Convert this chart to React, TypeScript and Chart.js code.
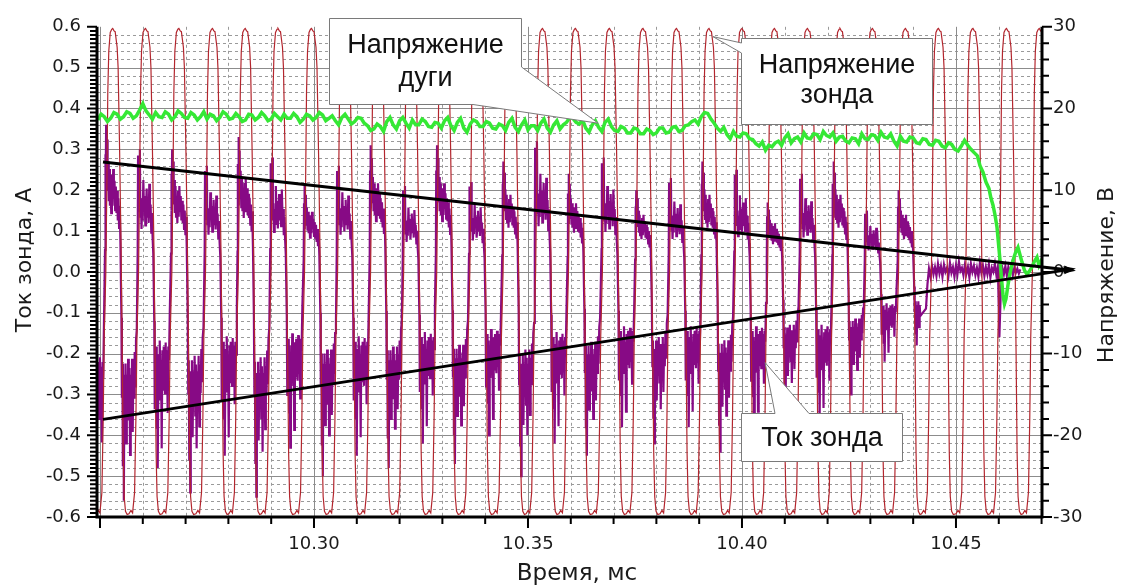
import React, { useEffect, useRef } from "react";
import { Chart, registerables } from "chart.js";

Chart.register(...registerables);

// ---------- axis ticks ----------
const timeTicks = [10.3, 10.35, 10.4, 10.45];
const currentTicks = [-0.6, -0.5, -0.4, -0.3, -0.2, -0.1, 0, 0.1, 0.2, 0.3, 0.4, 0.5, 0.6];
const voltageTicks = [-30, -20, -10, 0, 10, 20, 30];
const timeRange = [10.2493, 10.4701];

// ---------- probe voltage (right axis, V) ----------
// times of the tops of the probe voltage pulses, ms
const probePeakTimes = [
  10.25297, 10.26063, 10.26843, 10.27628, 10.28393, 10.29159, 10.29942, 10.30713,
  10.31484, 10.32257, 10.3303, 10.33804, 10.34579, 10.35339, 10.3611, 10.36904,
  10.37687, 10.3847, 10.39229, 10.4, 10.40759, 10.4153, 10.4229, 10.43049,
  10.4382, 10.44591, 10.45397, 10.4618, 10.46946,
];
// one pulse: phase within the period and voltage
const probePulsePhase = [-0.5, -0.44, -0.39, -0.33, -0.29, -0.26, -0.21, -0.18, -0.15, -0.12, -0.075, -0.03, 0, 0.04, 0.075, 0.135, 0.165, 0.21, 0.255, 0.29, 0.32, 0.35, 0.39, 0.44];
const probePulseVolts = [-29.6, -29.2, -29.5, -27, -18, -8, 0, 10, 22, 27, 29.3, 29.7, 29.8, 29.5, 29.4, 27.5, 25, 15, 3, -10, -22, -27.5, -29.3, -29.7];

// ---------- probe current (left axis, A) ----------
const currentHigh = [0.36, 0.3, 0.3, 0.26, 0.33, 0.28, 0.21, 0.26, 0.31, 0.21, 0.31, 0.22, 0.27, 0.32, 0.24, 0.28, 0.2, 0.23, 0.27, 0.25, 0.17, 0.24, 0.27, 0.15, 0.2];
const currentLow = [0.58, 0.56, 0.48, 0.54, 0.45, 0.55, 0.43, 0.5, 0.45, 0.48, 0.42, 0.47, 0.4, 0.5, 0.42, 0.45, 0.38, 0.42, 0.38, 0.44, 0.38, 0.34, 0.37, 0.3, 0.22, 0.18];
const posLobePhase = [-0.235, -0.225, -0.215, -0.2, -0.185, -0.17, -0.155, -0.14, -0.12, -0.1, -0.085, -0.065, -0.045, -0.025, -0.005, 0.015, 0.035, 0.055, 0.075, 0.095, 0.115, 0.135, 0.155, 0.175, 0.195, 0.215, 0.235];
const posLobeA = [0.15, 0.8, 0.5, 1.0, 0.62, 0.9, 0.55, 0.75, 0.48, 0.7, 0.45, 0.6, 0.4, 0.66, 0.45, 0.7, 0.5, 0.62, 0.42, 0.58, 0.4, 0.55, 0.35, 0.5, 0.3, 0.45, 0.2];
const posLobeB = [0.2, 0.95, 0.6, 0.85, 0.5, 1.0, 0.45, 0.6, 0.35, 0.55, 0.42, 0.75, 0.5, 0.62, 0.38, 0.5, 0.68, 0.45, 0.6, 0.4, 0.72, 0.5, 0.55, 0.32, 0.48, 0.28, 0.15];
const negLobePhase = [-0.235, -0.22, -0.205, -0.19, -0.175, -0.16, -0.145, -0.13, -0.11, -0.09, -0.07, -0.05, -0.03, -0.01, 0.01, 0.03, 0.05, 0.07, 0.09, 0.11, 0.13, 0.15, 0.17, 0.19, 0.21, 0.235];
const negLobeA = [0.2, 0.55, 0.4, 0.85, 0.45, 1.0, 0.5, 0.7, 0.4, 0.75, 0.45, 0.6, 0.38, 0.65, 0.42, 0.8, 0.45, 0.6, 0.38, 0.7, 0.42, 0.55, 0.35, 0.5, 0.3, 0.25];
const negLobeB = [0.25, 0.7, 0.45, 0.6, 0.38, 0.8, 0.42, 1.0, 0.5, 0.65, 0.35, 0.55, 0.45, 0.9, 0.4, 0.6, 0.38, 0.5, 0.62, 0.36, 0.58, 0.4, 0.72, 0.38, 0.45, 0.2];
const currentTailStart = 10.44299;
const currentTailStep = 0.00035;
const currentTail = [
  -0.09, -0.03, 0.008, -0.012, 0.015, -0.006, 0.012, -0.01, 0.02, -0.004, 0.014, -0.012, 0.018, 0.0, 0.01, -0.01,
  0.022, -0.002, 0.012, -0.012, 0.016, -0.006, 0.025, 0.002, 0.01, -0.008, 0.018, -0.004, 0.012, -0.014, 0.02, 0.0,
  0.015, -0.008, 0.01, -0.012, 0.022, -0.002, 0.016, -0.01, 0.012, -0.006, 0.018, -0.014, 0.01, 0.0, 0.02, -0.008,
  0.012, -0.16, -0.04, 0.01, -0.006, 0.014, -0.01, 0.012, -0.004, 0.016, -0.008, 0.01, -0.002, 0.008, -0.004, 0.006,
];

// ---------- arc voltage (right axis, V) ----------
const arcStart = 10.2495;
const arcStep = 0.00075;
const arcVoltage = [
  18.6, 19.3, 19.0, 18.4, 18.8, 19.5, 19.3, 18.7, 19.0, 19.6, 19.4, 18.8, 19.1, 19.8, 20.6, 19.7,
  19.2, 18.7, 19.5, 19.0, 18.9, 19.6, 19.3, 18.6, 19.0, 19.7, 19.4, 18.9, 18.8, 19.5, 19.2, 18.6,
  19.0, 19.6, 18.7, 19.3, 19.1, 18.5, 18.9, 19.6, 19.3, 18.7, 18.8, 19.4, 19.0, 18.4, 18.6, 19.3,
  19.2, 18.6, 18.9, 19.5, 19.1, 18.5, 18.7, 19.4, 19.0, 18.6, 19.3, 18.8, 18.8, 19.4, 19.0, 18.3,
  18.7, 19.3, 19.1, 18.6, 18.9, 19.5, 19.2, 18.5, 18.8, 19.1, 18.5, 18.0, 18.9, 19.3, 18.7, 18.1,
  18.4, 18.9, 18.8, 18.2, 17.9, 17.3, 17.5, 18.1, 17.8, 17.2, 18.4, 18.9, 18.0, 17.5, 18.5, 18.9,
  18.2, 17.6, 18.6, 18.0, 18.0, 18.7, 18.4, 17.8, 17.7, 18.3, 18.2, 17.6, 18.5, 18.9, 17.9, 17.3,
  18.3, 18.8, 17.6, 17.1, 18.1, 18.6, 18.4, 17.8, 17.8, 18.4, 18.2, 17.6, 17.5, 18.1, 17.9, 17.3,
  18.3, 18.8, 17.7, 17.2, 18.0, 18.6, 17.4, 17.9, 17.9, 17.3, 18.2, 18.7, 17.6, 17.1, 18.0, 18.5,
  17.5, 18.0, 18.3, 18.9, 18.8, 18.3, 18.1, 18.6, 17.6, 17.1, 18.0, 18.5, 17.7, 17.2, 18.3, 18.7,
  17.8, 17.3, 17.2, 17.8, 17.6, 17.0, 17.0, 17.6, 17.5, 16.9, 16.9, 17.5, 17.3, 16.8, 17.0, 17.6,
  17.6, 17.0, 17.1, 17.7, 17.8, 17.2, 17.3, 17.9, 18.0, 18.4, 18.6, 18.1, 19.0, 19.5, 19.4, 18.7,
  18.2, 17.6, 17.2, 17.7, 16.8, 16.3, 17.2, 16.6, 16.5, 17.0, 16.9, 16.3, 16.2, 15.7, 15.4, 15.9,
  14.9, 15.5, 15.3, 15.8, 16.0, 15.5, 16.4, 16.9, 15.8, 16.3, 16.5, 15.9, 17.0, 16.4, 16.3, 16.9,
  16.8, 16.2, 17.2, 16.7, 16.5, 17.0, 16.0, 16.5, 16.6, 16.0, 15.8, 16.4, 16.3, 15.7, 16.9, 16.3,
  16.2, 16.8, 16.7, 16.1, 17.1, 16.5, 16.4, 16.9, 16.0, 15.4, 16.6, 16.0, 15.9, 16.5, 16.4, 15.8,
  15.7, 16.3, 16.2, 15.6, 15.5, 16.1, 16.0, 15.4, 15.2, 15.8, 15.6, 15.0, 14.8, 15.4, 16.1, 15.5,
  15.0, 14.6, 14.2,
];
const arcTailTimes = [
  10.45561, 10.45631, 10.45701, 10.45771, 10.45818, 10.45864, 10.45911, 10.45958, 10.45993, 10.46028,
  10.46063, 10.46098, 10.46133, 10.46168, 10.46215, 10.46262, 10.46308, 10.46355, 10.46402, 10.46449,
  10.46495, 10.46542, 10.466, 10.46659, 10.46717, 10.46776, 10.46834, 10.46893, 10.46939, 10.46986, 10.47033,
];
const arcTailVolts = [
  13.0, 12.2, 11.0, 10.2, 9.0, 8.2, 7.0, 5.5, 3.5, 1.5,
  -0.8, -2.8, -3.9, -3.3, -1.6, -0.2, 0.9, 1.8, 2.5, 3.0,
  2.1, 1.2, 0.2, -0.3, 0.1, 0.6, 1.3, 1.8, 0.8, 1.3, 0.9,
];

// ---------- envelope (black lines, left axis) ----------
const envelopeTimes = [10.2507, 10.47593];
const envelopeUpper = [0.269, 0.005];
const envelopeLower = [-0.361, 0.005];

type P = { x: number; y: number };

function localPeriod(k: number): number {
  const n = probePeakTimes.length;
  const a = Math.max(0, k - 1);
  const b = Math.min(n - 1, k + 1);
  return (probePeakTimes[b] - probePeakTimes[a]) / (b - a);
}

function buildProbeVoltage(): P[] {
  const pts: P[] = [];
  probePeakTimes.forEach((t0, k) => {
    const per = localPeriod(k);
    probePulsePhase.forEach((ph, i) => pts.push({ x: t0 + ph * per, y: probePulseVolts[i] }));
  });
  const last = probePeakTimes.length - 1;
  pts.push({ x: probePeakTimes[last] + 0.5 * localPeriod(last), y: probePulseVolts[0] });
  return pts;
}

function buildCurrent(): P[] {
  const pts: P[] = [];
  const pushNeg = (center: number, per: number, lo: number, k: number, maxPhase: number) => {
    const shape = k % 2 === 0 ? negLobeA : negLobeB;
    negLobePhase.forEach((ph, i) => {
      if (ph <= maxPhase) pts.push({ x: center + ph * per, y: -shape[i] * lo });
    });
  };
  const pushPos = (center: number, per: number, hi: number, k: number) => {
    const shape = k % 2 === 0 ? posLobeA : posLobeB;
    posLobePhase.forEach((ph, i) => pts.push({ x: center + ph * per, y: shape[i] * hi }));
  };
  const per0 = localPeriod(0);
  pushNeg(probePeakTimes[0] - 0.5 * per0, per0, currentLow[0], 1, 1);
  currentHigh.forEach((hi, k) => {
    const per = localPeriod(k);
    pushPos(probePeakTimes[k], per, hi, k);
    const last = k === currentHigh.length - 1;
    pushNeg(probePeakTimes[k] + 0.5 * per, per, currentLow[k + 1], k, last ? -0.05 : 1);
  });
  currentTail.forEach((v, i) => pts.push({ x: currentTailStart + i * currentTailStep, y: v }));
  return pts;
}

function buildArc(): P[] {
  const pts: P[] = arcVoltage.map((v, i) => ({ x: arcStart + i * arcStep, y: v }));
  arcTailTimes.forEach((t, i) => pts.push({ x: t, y: arcTailVolts[i] }));
  return pts;
}

const AXIS_FONT = '"DejaVu Sans", Verdana, sans-serif';
const NOTE_FONT = '"Liberation Sans", Arial, sans-serif';

const decorPlugin = {
  id: "decor",
  beforeDatasetsDraw(chart: any) {
    const { ctx, chartArea: a } = chart;
    const xs = chart.scales.x;
    const ys = chart.scales.y;
    ctx.save();
    ctx.lineWidth = 1;
    for (let i = -58; i <= 58; i += 2) {
      const py = Math.round(ys.getPixelForValue(i / 100)) + 0.5;
      if (i % 10 === 0) {
        ctx.setLineDash([]);
        ctx.strokeStyle = "#8c8c8c";
      } else {
        ctx.setLineDash([3, 3]);
        ctx.strokeStyle = "#9a9a9a";
      }
      ctx.beginPath();
      ctx.moveTo(a.left, py);
      ctx.lineTo(a.right, py);
      ctx.stroke();
    }
    for (let i = 1025; i <= 1047; i++) {
      const v = i / 100;
      if (v <= xs.min + 1e-6 || v >= xs.max - 1e-6) continue;
      const px = Math.round(xs.getPixelForValue(v)) + 0.5;
      if (i % 5 === 0) {
        ctx.setLineDash([]);
        ctx.strokeStyle = "#8c8c8c";
      } else {
        ctx.setLineDash([3, 3]);
        ctx.strokeStyle = "#9a9a9a";
      }
      ctx.beginPath();
      ctx.moveTo(px, a.top);
      ctx.lineTo(px, a.bottom);
      ctx.stroke();
    }
    ctx.restore();
  },
  afterDatasetsDraw(chart: any) {
    const { ctx, chartArea: a } = chart;
    const xs = chart.scales.x;
    const ys = chart.scales.y;
    const y2 = chart.scales.y2;
    ctx.save();
    const ex = xs.getPixelForValue(envelopeTimes[1]);
    [envelopeUpper, envelopeLower].forEach((line) => {
      const sx = xs.getPixelForValue(envelopeTimes[0]);
      const sy = ys.getPixelForValue(line[0]);
      const eyy = ys.getPixelForValue(line[1]);
      const dx = ex - sx;
      const dy = eyy - sy;
      const len = Math.hypot(dx, dy);
      const ux = dx / len;
      const uy = dy / len;
      ctx.fillStyle = "#000";
      ctx.beginPath();
      ctx.moveTo(ex + ux * 9, eyy + uy * 9);
      ctx.lineTo(ex - ux * 3 - uy * 4, eyy - uy * 3 + ux * 4);
      ctx.lineTo(ex - ux * 3 + uy * 4, eyy - uy * 3 - ux * 4);
      ctx.closePath();
      ctx.fill();
    });
    ctx.strokeStyle = "#000";
    ctx.lineWidth = 3;
    ctx.beginPath();
    ctx.moveTo(a.left, a.top);
    ctx.lineTo(a.left, a.bottom);
    ctx.moveTo(a.right, a.top);
    ctx.lineTo(a.right, a.bottom);
    ctx.moveTo(a.left - 1.5, a.bottom);
    ctx.lineTo(a.right + 1.5, a.bottom);
    ctx.stroke();
    ctx.lineWidth = 2;
    ctx.beginPath();
    for (let i = -60; i <= 60; i++) {
      const py = ys.getPixelForValue(i / 100);
      const len = i % 10 === 0 ? 10 : 7;
      ctx.moveTo(a.left - len, py);
      ctx.lineTo(a.left, py);
    }
    for (let i = -15; i <= 15; i++) {
      const py = y2.getPixelForValue(i * 2);
      const len = (i * 2) % 10 === 0 ? 10 : 7;
      ctx.moveTo(a.right, py);
      ctx.lineTo(a.right + len, py);
    }
    for (let i = 1025; i <= 1047; i++) {
      const v = i / 100;
      if (v < xs.min - 1e-6 || v > xs.max + 1e-6) continue;
      const px = xs.getPixelForValue(v);
      const len = i % 5 === 0 ? 11 : 7;
      ctx.moveTo(px, a.bottom);
      ctx.lineTo(px, a.bottom + len);
    }
    ctx.stroke();
    ctx.restore();
  },
  afterDraw(chart: any) {
    const { ctx } = chart;
    const xs = chart.scales.x;
    const ys = chart.scales.y;
    const y2 = chart.scales.y2;
    ctx.save();
    ctx.fillStyle = "#1a1a1a";
    ctx.font = `23px ${AXIS_FONT}`;
    ctx.textAlign = "center";
    ctx.textBaseline = "alphabetic";
    ctx.fillText("Время, мс", 577, 580);
    ctx.font = `22px ${AXIS_FONT}`;
    ctx.save();
    ctx.translate(31, 260);
    ctx.rotate(-Math.PI / 2);
    ctx.fillText("Ток зонда, А", 0, 0);
    ctx.restore();
    ctx.save();
    ctx.translate(1113, 275);
    ctx.rotate(-Math.PI / 2);
    ctx.fillText("Напряжение, В", 0, 0);
    ctx.restore();

    const callout = (poly: number[][], lines: string[], cx: number, baselines: number[]) => {
      ctx.beginPath();
      poly.forEach((p, i) => (i === 0 ? ctx.moveTo(p[0], p[1]) : ctx.lineTo(p[0], p[1])));
      ctx.closePath();
      ctx.fillStyle = "#ffffff";
      ctx.fill();
      ctx.strokeStyle = "#7a7a7a";
      ctx.lineWidth = 1;
      ctx.stroke();
      ctx.fillStyle = "#111";
      ctx.font = `27px ${NOTE_FONT}`;
      ctx.textAlign = "center";
      ctx.textBaseline = "alphabetic";
      lines.forEach((s, i) => ctx.fillText(s, cx, baselines[i]));
    };
    const tip1 = [xs.getPixelForValue(10.3664), y2.getPixelForValue(18.2)];
    callout(
      [[329.5, 18.5], [521.5, 18.5], [521.5, 67], tip1, [473, 104.5], [329.5, 104.5]],
      ["Напряжение", "дуги"],
      425.5,
      [53, 86]
    );
    const tip2 = [xs.getPixelForValue(10.3932), y2.getPixelForValue(28.8)];
    callout(
      [[741.5, 38.5], [932.5, 38.5], [932.5, 124.5], [741.5, 124.5], [741.5, 53], tip2, [741.5, 43]],
      ["Напряжение", "зонда"],
      837,
      [73, 103]
    );
    const tip3 = [xs.getPixelForValue(10.4054), ys.getPixelForValue(-0.222)];
    callout(
      [[741.5, 413.5], [775, 413.5], tip3, [809, 413.5], [902.5, 413.5], [902.5, 461.5], [741.5, 461.5]],
      ["Ток зонда"],
      822,
      [446]
    );
    ctx.restore();
  },
};

export default function App() {
  const ref = useRef<HTMLCanvasElement | null>(null);
  useEffect(() => {
    if (!ref.current) return;
    const envUpper = envelopeTimes.map((t, i) => ({ x: t, y: envelopeUpper[i] }));
    const envLower = envelopeTimes.map((t, i) => ({ x: t, y: envelopeLower[i] }));
    const chart = new Chart(ref.current, {
      type: "line",
      data: {
        datasets: [
          { label: "env1", data: envUpper, yAxisID: "y", borderColor: "#000", borderWidth: 3, pointRadius: 0, clip: false as any },
          { label: "env2", data: envLower, yAxisID: "y", borderColor: "#000", borderWidth: 3, pointRadius: 0, clip: false as any },
          { label: "Напряжение дуги", data: buildArc(), yAxisID: "y2", borderColor: "#35e835", borderWidth: 3.5, pointRadius: 0, tension: 0 },
          { label: "Напряжение зонда", data: buildProbeVoltage(), yAxisID: "y2", borderColor: "#b3262e", borderWidth: 1.2, pointRadius: 0, tension: 0 },
          { label: "Ток зонда", data: buildCurrent(), yAxisID: "y", borderColor: "#870a85", borderWidth: 2.2, pointRadius: 0, tension: 0 },
        ],
      },
      options: {
        responsive: false,
        animation: false,
        events: [],
        devicePixelRatio: 1,
        layout: { padding: { top: 25, left: 0, right: 0, bottom: 0 } },
        plugins: { legend: { display: false }, tooltip: { enabled: false } },
        scales: {
          x: {
            type: "linear",
            position: "bottom",
            min: timeRange[0],
            max: timeRange[1],
            grid: { display: false, drawTicks: false },
            border: { display: false },
            afterBuildTicks: (s: any) => {
              s.ticks = timeTicks.map((v) => ({ value: v }));
            },
            afterFit: (s: any) => {
              s.height = 68;
            },
            ticks: {
              autoSkip: false,
              maxRotation: 0,
              padding: 17,
              color: "#1a1a1a",
              font: { family: AXIS_FONT, size: 18 },
              callback: (v: any) => Number(v).toFixed(2),
            },
          },
          y: {
            type: "linear",
            position: "left",
            min: -0.6,
            max: 0.6,
            grid: { display: false, drawTicks: false },
            border: { display: false },
            afterBuildTicks: (s: any) => {
              s.ticks = currentTicks.map((v) => ({ value: v }));
            },
            afterFit: (s: any) => {
              s.width = 97;
            },
            ticks: {
              autoSkip: false,
              padding: 16,
              color: "#1a1a1a",
              font: { family: AXIS_FONT, size: 18 },
              callback: (v: any) => Number(v).toFixed(1),
            },
          },
          y2: {
            type: "linear",
            position: "right",
            min: -30,
            max: 30,
            grid: { display: false, drawTicks: false },
            border: { display: false },
            afterBuildTicks: (s: any) => {
              s.ticks = voltageTicks.map((v) => ({ value: v }));
            },
            afterFit: (s: any) => {
              s.width = 83;
            },
            ticks: {
              autoSkip: false,
              padding: 11,
              color: "#1a1a1a",
              font: { family: AXIS_FONT, size: 18 },
              callback: (v: any) => String(Math.round(Number(v))),
            },
          },
        },
      } as any,
      plugins: [decorPlugin],
    });
    return () => chart.destroy();
  }, []);
  return (
    <div style={{ position: "fixed", left: 0, top: 0, width: 1125, height: 585, background: "#fff" }}>
      <canvas ref={ref} width={1125} height={585} style={{ display: "block" }} />
    </div>
  );
}
